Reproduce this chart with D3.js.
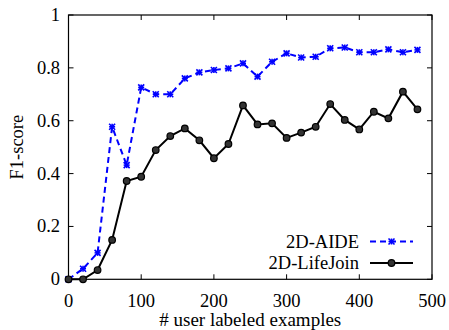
<!DOCTYPE html>
<html lang="en">
<head>
<meta charset="UTF-8">
<title>F1-score chart</title>
<style>
    body { margin: 0; background: #fff; }
    svg text { font-family: "Liberation Serif", "DejaVu Serif", serif; fill: #000; }
</style>
</head>
<body>
<svg></svg>
<script src="https://d3js.org/d3.v7.min.js"></script>
<script>
// data
const labeled = [0, 20, 40, 60, 80, 100, 120, 140, 160, 180, 200, 220, 240,
                 260, 280, 300, 320, 340, 360, 380, 400, 420, 440, 460, 480];
const aide = [0, 0.04, 0.10, 0.577, 0.432, 0.726, 0.70, 0.70, 0.76, 0.783, 0.792, 0.798, 0.817,
              0.767, 0.823, 0.855, 0.839, 0.842, 0.874, 0.877, 0.859, 0.859, 0.870, 0.859, 0.868];
const lifeJoin = [0, 0, 0.035, 0.149, 0.372, 0.388, 0.489, 0.542, 0.571, 0.526, 0.458, 0.512, 0.658,
                  0.586, 0.590, 0.535, 0.555, 0.577, 0.663, 0.603, 0.567, 0.634, 0.609, 0.710, 0.643];
const xTicks = [0, 100, 200, 300, 400, 500];
const yTicks = [0, 0.2, 0.4, 0.6, 0.8, 1];

let width = 449, height = 330;
let margin = {left: 68.5, right: 17, top: 15, bottom: 50.7};
let fs = 18.5;

let svg = d3.select("svg")
    .attr("width", width)
    .attr("height", height);

let x = d3.scaleLinear().domain([0, 500]).range([margin.left, width - margin.right]);
let y = d3.scaleLinear().domain([0, 1]).range([height - margin.bottom, margin.top]);

// ticks, inward on all four sides
let tickLen = 5;
let g = svg.append("g");
xTicks.forEach(t => {
    g.append("line").attr("x1", x(t)).attr("x2", x(t))
        .attr("y1", y(0)).attr("y2", y(0) - tickLen).attr("stroke", "#000");
    g.append("line").attr("x1", x(t)).attr("x2", x(t))
        .attr("y1", y(1)).attr("y2", y(1) + tickLen).attr("stroke", "#000");
    g.append("text").attr("x", x(t)).attr("y", y(0) + 27.5)
        .attr("text-anchor", "middle").attr("font-size", fs).text(t);
});
yTicks.forEach(t => {
    g.append("line").attr("x1", x(0)).attr("x2", x(0) + tickLen)
        .attr("y1", y(t)).attr("y2", y(t)).attr("stroke", "#000");
    g.append("line").attr("x1", x(500)).attr("x2", x(500) - tickLen)
        .attr("y1", y(t)).attr("y2", y(t)).attr("stroke", "#000");
    g.append("text").attr("x", x(0) - 8.5).attr("y", y(t) + 6)
        .attr("text-anchor", "end").attr("font-size", fs).text(t);
});

// frame
svg.append("rect")
    .attr("x", x(0)).attr("y", y(1))
    .attr("width", x(500) - x(0)).attr("height", y(0) - y(1))
    .attr("fill", "none").attr("stroke", "#000").attr("stroke-width", 1.2);

// axis titles
svg.append("text").attr("x", (x(0) + x(500)) / 2).attr("y", 326)
    .attr("text-anchor", "middle").attr("font-size", 19).text("# user labeled examples");
svg.append("text")
    .attr("transform", `translate(23,${(y(0) + y(1)) / 2}) rotate(-90)`)
    .attr("text-anchor", "middle").attr("font-size", fs).text("F1-score");

let line = d3.line().x((d, i) => x(labeled[i])).y(d => y(d));

function star(sel, cx, cy, r) {
    let s = sel.append("g").attr("transform", `translate(${cx},${cy})`)
        .attr("stroke", "#0000ff").attr("stroke-width", 1.6);
    s.append("line").attr("x1", -r).attr("x2", r).attr("y1", -r).attr("y2", r);
    s.append("line").attr("x1", -r).attr("x2", r).attr("y1", r).attr("y2", -r);
    s.append("line").attr("x1", -r).attr("x2", r).attr("y1", 0).attr("y2", 0);
    s.append("line").attr("x1", 0).attr("x2", 0).attr("y1", -r).attr("y2", r);
}

// 2D-AIDE
svg.append("path").datum(aide).attr("d", line)
    .attr("fill", "none").attr("stroke", "#0000ff").attr("stroke-width", 2)
    .attr("stroke-dasharray", "6,4");
let aideG = svg.append("g");
aide.forEach((v, i) => star(aideG, x(labeled[i]), y(v), 3));

// 2D-LifeJoin
svg.append("path").datum(lifeJoin).attr("d", line)
    .attr("fill", "none").attr("stroke", "#000").attr("stroke-width", 2);
svg.append("g").selectAll("circle").data(lifeJoin).enter().append("circle")
    .attr("cx", (d, i) => x(labeled[i])).attr("cy", d => y(d))
    .attr("r", 3.3).attr("fill", "#333").attr("stroke", "#000").attr("stroke-width", 1.2);

// legend
let lx1 = 370, lx2 = 413, ly1 = 241.5, ly2 = 263;
svg.append("text").attr("x", 359).attr("y", ly1 + 6).attr("text-anchor", "end")
    .attr("font-size", fs).text("2D-AIDE");
svg.append("line").attr("x1", lx1).attr("x2", lx2).attr("y1", ly1).attr("y2", ly1)
    .attr("stroke", "#0000ff").attr("stroke-width", 2).attr("stroke-dasharray", "6,4");
star(svg, (lx1 + lx2) / 2, ly1, 3);
svg.append("text").attr("x", 359).attr("y", ly2 + 6).attr("text-anchor", "end")
    .attr("font-size", fs).text("2D-LifeJoin");
svg.append("line").attr("x1", lx1).attr("x2", lx2).attr("y1", ly2).attr("y2", ly2)
    .attr("stroke", "#000").attr("stroke-width", 2);
svg.append("circle").attr("cx", (lx1 + lx2) / 2).attr("cy", ly2).attr("r", 3.3)
    .attr("fill", "#333").attr("stroke", "#000").attr("stroke-width", 1.2);
</script>
</body>
</html>
